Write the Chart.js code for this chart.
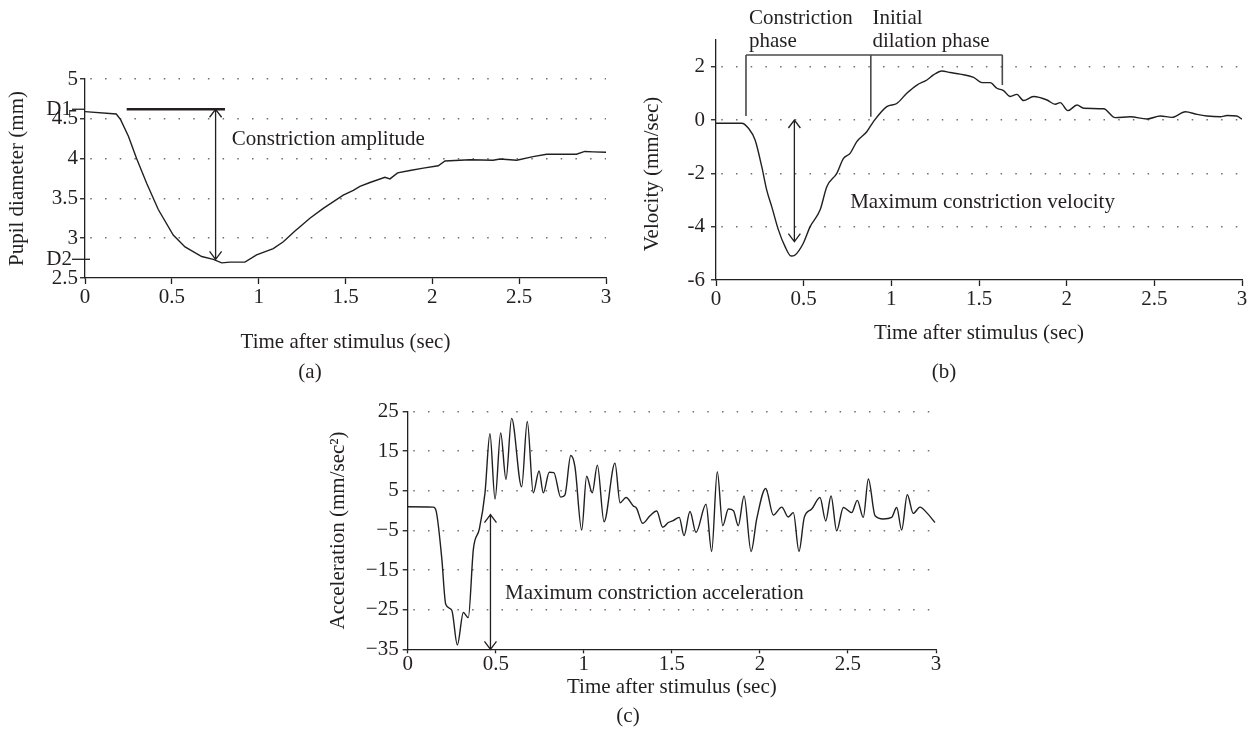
<!DOCTYPE html>
<html>
<head>
<meta charset="utf-8">
<script src="https://cdn.jsdelivr.net/npm/chart.js@4.4.1/dist/chart.umd.min.js"></script>
<style>
  body { margin: 0; background: #fff; }
  #page { position: relative; width: 1254px; height: 752px; overflow: hidden; }
  canvas { position: absolute; }
</style>
</head>
<body>
<div id="page">
  <canvas id="chartA" width="627" height="395" style="left:0;top:0"></canvas>
  <canvas id="chartB" width="627" height="395" style="left:627px;top:0"></canvas>
  <canvas id="chartC" width="660" height="357" style="left:300px;top:395px"></canvas>
</div>
<script>
"use strict";

/* data */

const xTicks = [0, 0.5, 1, 1.5, 2, 2.5, 3];

// (a) pupil diameter
const timeA = [0, 0.18, 0.205, 0.25, 0.297, 0.355, 0.422, 0.508, 0.576, 0.672, 0.739, 0.787, 0.835, 0.921, 0.988,
  1.084, 1.142, 1.209, 1.238, 1.295, 1.372, 1.487, 1.545, 1.583, 1.641, 1.727, 1.756, 1.8, 1.871, 1.948,
  2.034, 2.073, 2.216, 2.35, 2.39, 2.486, 2.58, 2.658, 2.83, 2.878, 2.926, 3.0];
const pupilA = [4.59, 4.56, 4.49, 4.28, 4.0, 3.69, 3.36, 3.04, 2.89, 2.77, 2.735, 2.69, 2.7, 2.7, 2.79,
  2.87, 2.955, 3.09, 3.145, 3.25, 3.375, 3.54, 3.6, 3.65, 3.7, 3.765, 3.745, 3.82, 3.85, 3.88,
  3.91, 3.97, 3.985, 3.98, 3.995, 3.98, 4.025, 4.055, 4.055, 4.09, 4.085, 4.08];
const yTicksA = [2.5, 3, 3.5, 4, 4.5, 5];
const D1 = 4.62;
const D2 = 2.735;

// (b) velocity
const timeB = [0, 0.147, 0.185, 0.223, 0.261, 0.289, 0.318, 0.356, 0.394, 0.428, 0.451, 0.498, 0.537, 0.594, 0.632,
  0.689, 0.727, 0.765, 0.803, 0.86, 0.898, 0.974, 1.031, 1.088, 1.146, 1.203, 1.24, 1.288, 1.336, 1.393,
  1.469, 1.517, 1.564, 1.602, 1.64, 1.678, 1.716, 1.754, 1.811, 1.888, 1.935, 1.963, 2.007, 2.059, 2.097,
  2.211, 2.277, 2.363, 2.458, 2.534, 2.6, 2.677, 2.744, 2.8, 2.877, 2.915, 2.97, 3.0];
const velB = [-0.12, -0.12, -0.31, -0.75, -1.75, -2.62, -3.25, -4.12, -4.75, -5.1, -5.06, -4.62, -4.0, -3.37, -2.5,
  -2.0, -1.44, -1.25, -0.81, -0.44, -0.06, 0.5, 0.62, 1.0, 1.31, 1.5, 1.69, 1.84, 1.78, 1.72,
  1.6, 1.4, 1.4, 1.19, 1.1, 0.88, 0.96, 0.73, 0.88, 0.75, 0.59, 0.65, 0.35, 0.56, 0.44,
  0.42, 0.09, 0.12, 0.04, 0.15, 0.1, 0.31, 0.21, 0.15, 0.12, 0.17, 0.15, 0.03];
const yTicksB = [-6, -4, -2, 0, 2];

// (c) acceleration
const timeC = [0, 0.145, 0.161, 0.193, 0.216, 0.25, 0.282, 0.316, 0.344, 0.373,
  0.407, 0.439, 0.467, 0.496, 0.528, 0.558, 0.59, 0.647, 0.679, 0.713,
  0.746, 0.77, 0.804, 0.83, 0.869, 0.893, 0.926, 0.95, 0.988, 1.016,
  1.048, 1.077, 1.115, 1.177, 1.206, 1.24, 1.281, 1.3, 1.334, 1.376,
  1.414, 1.448, 1.48, 1.508, 1.542, 1.569, 1.603, 1.637, 1.694, 1.726,
  1.758, 1.789, 1.821, 1.85, 1.877, 1.91, 1.95, 1.982, 2.033, 2.076,
  2.124, 2.161, 2.19, 2.222, 2.252, 2.294, 2.341, 2.374, 2.404, 2.436,
  2.474, 2.521, 2.553, 2.587, 2.616, 2.654, 2.701, 2.748, 2.777, 2.805,
  2.837, 2.871, 2.909, 2.947, 2.994];
const accC = [1, 0.9, 0, -11.8, -23.6, -25.1, -33.9, -25.7, -27, -9.7,
  -4.6, 4.5, 19.4, 2.9, 19.6, 7.9, 23.3, 6, 22.5, 4.5,
  10, 4.5, 9.7, 9.6, 3.4, 4, 13.9, 11, -4.9, 8.7,
  4.5, 11.5, -2.8, 12, 2, 3.3, 1.2, 0.6, -3.2, -1.3,
  -0.1, -4.2, -3, -2.5, -1.7, -6.3, -0.2, -5.5, 1.6, -10.3,
  9.8, -3.8, 0.4, 0, -3.8, 3.7, -10.3, -2.1, 5.6, -1.1,
  0.9, -1.6, -0.5, -10.3, -1.7, 0.4, 3.3, -2.6, 3.7, -5.1,
  0.8, -0.5, 2.6, -1.7, 8.0, -1.3, -2.1, -1.7, 0.8, -4.9,
  4.0, -0.7, 0.9, -0.5, -3.0];
const yTicksC = [-35, -25, -15, -5, 5, 15, 25];

/* styling */

const ink = "#231f20";
const dotColor = "#6d6e71";
const serif = '"Liberation Serif", "DejaVu Serif", serif';
const fontSize = 21;

Chart.defaults.font.family = serif;
Chart.defaults.font.size = fontSize;
Chart.defaults.color = ink;

const points = (xs, ys) => xs.map((t, i) => ({ x: t, y: ys[i] }));
const setTicks = list => scale => { scale.ticks = list.map(v => ({ value: v })); };

// draws the brackets, arrows and words that sit on top of each panel
function annotate(spec) {
    return {
        id: "annotate",
        afterDatasetsDraw(chart) {
            const { ctx, chartArea } = chart;
            const x = chart.scales.x;
            const y = chart.scales.y;
            ctx.save();
            ctx.strokeStyle = ink;
            ctx.fillStyle = ink;
            ctx.lineCap = "butt";

            (spec.lines || []).forEach(l => {
                ctx.save();
                ctx.lineWidth = l.width || 1.3;
                ctx.strokeStyle = l.color || ink;
                ctx.beginPath();
                ctx.moveTo(x.getPixelForValue(l.x1), y.getPixelForValue(l.y1));
                ctx.lineTo(x.getPixelForValue(l.x2), y.getPixelForValue(l.y2));
                ctx.stroke();
                ctx.restore();
            });

            (spec.arrows || []).forEach(a => {
                const px = x.getPixelForValue(a.x);
                const top = y.getPixelForValue(a.y1);
                const bot = y.getPixelForValue(a.y2);
                ctx.lineWidth = 1.3;
                ctx.beginPath();
                ctx.moveTo(px, top);
                ctx.lineTo(px, bot);
                ctx.moveTo(px - 6, top + 8);
                ctx.lineTo(px, top);
                ctx.lineTo(px + 6, top + 8);
                ctx.moveTo(px - 6, bot - 8);
                ctx.lineTo(px, bot);
                ctx.lineTo(px + 6, bot - 8);
                ctx.stroke();
            });

            ctx.font = fontSize + "px " + serif;
            ctx.textAlign = "left";
            ctx.textBaseline = "alphabetic";
            (spec.texts || []).forEach(t => {
                ctx.fillText(t.text, x.getPixelForValue(t.x), y.getPixelForValue(t.y));
            });

            // extra tick marks (D1, D2)
            (spec.marks || []).forEach(m => {
                const py = y.getPixelForValue(m.value);
                ctx.lineWidth = 1.3;
                ctx.beginPath();
                ctx.moveTo(chartArea.left - 13, py);
                ctx.lineTo(chartArea.left + m.ext, py);
                ctx.stroke();
                ctx.textAlign = "right";
                ctx.textBaseline = "middle";
                ctx.fillText(m.label, chartArea.left - 13, py);
            });

            // free labels in canvas pixels (panel letters, rotated titles)
            (spec.labels || []).forEach(t => {
                ctx.save();
                ctx.translate(t.px, t.py);
                ctx.rotate(t.rot || 0);
                ctx.textAlign = "center";
                ctx.textBaseline = "middle";
                ctx.fillText(t.text, 0, 0);
                ctx.restore();
            });
            ctx.restore();
        }
    };
}

function lineChart(id, data, opts) {
    return new Chart(document.getElementById(id), {
        type: "line",
        data: {
            datasets: [{
                data: data,
                borderColor: ink,
                borderWidth: 1.4,
                pointRadius: 0,
                tension: opts.tension || 0,
                cubicInterpolationMode: opts.mono ? "monotone" : "default"
            }]
        },
        options: {
            responsive: false,
            animation: false,
            events: [],
            layout: { padding: opts.padding },
            plugins: { legend: { display: false }, tooltip: { enabled: false } },
            scales: {
                x: {
                    type: "linear",
                    min: 0,
                    max: 3,
                    afterBuildTicks: setTicks(xTicks),
                    afterFit: s => { s.height = opts.xHeight; },
                    grid: { drawOnChartArea: false, tickLength: opts.xTick || 6, tickColor: ink, tickWidth: 1.3 },
                    border: { color: ink, width: 1.3 },
                    ticks: { padding: opts.xPad, autoSkip: false, maxRotation: 0, callback: v => String(v) },
                    title: { display: true, text: "Time after stimulus (sec)", padding: { top: 0, bottom: opts.xTitlePad } }
                },
                y: {
                    type: "linear",
                    min: opts.yMin,
                    max: opts.yMax,
                    afterBuildTicks: setTicks(opts.yTicks),
                    afterFit: s => { s.width = opts.yWidth; },
                    grid: {
                        color: c => (c.tick && c.tick.value === opts.yMin) ? "rgba(0,0,0,0)" : dotColor,
                        lineWidth: 1.5,
                        tickLength: 5,
                        tickColor: ink,
                        tickWidth: 1.3
                    },
                    border: { color: ink, width: 1.3, dash: [1.5, 13.2], dashOffset: 9.7 },
                    ticks: { padding: opts.yPad, callback: opts.yLabel || (v => String(v)) },
                    title: {
                        display: !!opts.yTitle,
                        text: opts.yTitle || "",
                        padding: { top: opts.yTitlePad || 0, bottom: 0 }
                    }
                }
            }
        },
        plugins: [annotate(opts.notes)]
    });
}

// (a)
lineChart("chartA", points(timeA, pupilA), {
    padding: { top: 79, right: 21, left: 0, bottom: 0 },
    xHeight: 117, xPad: 1, xTitlePad: 40,
    yMin: 2.5, yMax: 5, yTicks: yTicksA, yWidth: 85, yPad: 2,
    yTitle: "Pupil diameter (mm)", yTitlePad: 5,
    notes: {
        lines: [{ x1: 0.24, y1: D1, x2: 0.806, y2: D1, width: 2.6 }],
        arrows: [{ x: 0.752, y1: D1, y2: D2 }],
        texts: [{ text: "Constriction amplitude", x: 0.845, y: 4.17 }],
        marks: [{ label: "D1", value: D1, ext: 0 }, { label: "D2", value: D2, ext: 5 }],
        labels: [{ text: "(a)", px: 310, py: 372 }]
    }
});

// (b)
const bracket = "#4a4a4a";
lineChart("chartB", points(timeB, velB), {
    mono: true,
    padding: { top: 40, right: 12, left: 0, bottom: 0 },
    xHeight: 115, xPad: 1, xTitlePad: 49,
    yMin: -6, yMax: 3, yTicks: yTicksB, yWidth: 89, yPad: 6,
    notes: {
        lines: [
            { x1: 0.171, y1: 2.44, x2: 1.633, y2: 2.44, color: bracket, width: 1.6 },
            { x1: 0.171, y1: 2.44, x2: 0.171, y2: 0.15, color: bracket, width: 1.6 },
            { x1: 0.883, y1: 2.44, x2: 0.883, y2: 0.12, color: bracket, width: 1.6 },
            { x1: 1.633, y1: 2.44, x2: 1.633, y2: 1.31, color: bracket, width: 1.6 }
        ],
        arrows: [{ x: 0.447, y1: 0, y2: -4.56 }],
        texts: [
            { text: "Constriction", x: 0.188, y: 3.6 },
            { text: "phase", x: 0.188, y: 2.75 },
            { text: "Initial", x: 0.892, y: 3.6 },
            { text: "dilation phase", x: 0.892, y: 2.75 },
            { text: "Maximum constriction velocity", x: 0.765, y: -3.31 }
        ],
        labels: [
            { text: "Velocity (mm/sec)", px: 25, py: 174, rot: -Math.PI / 2 },
            { text: "(b)", px: 317, py: 372 }
        ]
    }
});

// (c)
lineChart("chartC", points(timeC, accC), {
    mono: true,
    padding: { top: 15, right: 24, left: 0, bottom: 0 },
    xHeight: 102.7, xTick: 4, xPad: -1, xTitlePad: 52,
    yMin: -35, yMax: 25, yTicks: yTicksC, yWidth: 107.7, yPad: 4,
    yLabel: v => String(v).replace("-", "\u2212"),
    yTitle: "Acceleration (mm/sec\u00b2)", yTitlePad: 26,
    notes: {
        arrows: [{ x: 0.47, y1: -1, y2: -35 }],
        texts: [{ text: "Maximum constriction acceleration", x: 0.553, y: -22.2 }],
        labels: [{ text: "(c)", px: 328, py: 321 }]
    }
});
</script>
</body>
</html>
